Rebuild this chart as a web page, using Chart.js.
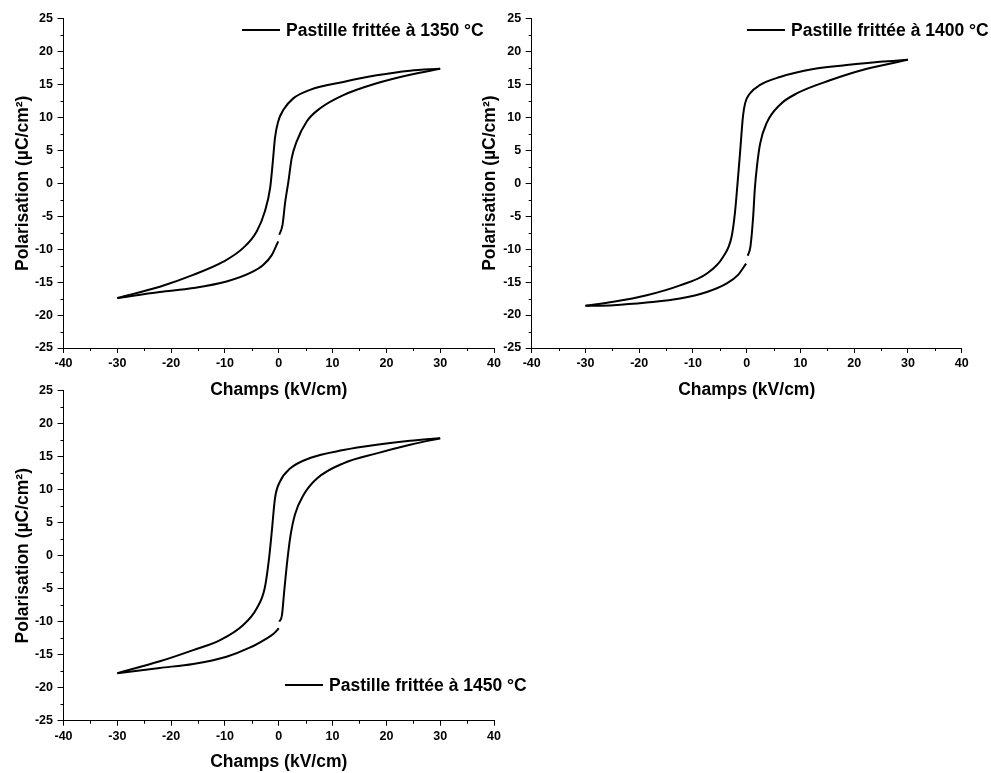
<!DOCTYPE html>
<html>
<head>
<meta charset="utf-8">
<script src="https://cdn.jsdelivr.net/npm/chart.js@4.4.0/dist/chart.umd.min.js"></script>
<style>
    body { margin: 0; background: #fff; width: 991px; height: 773px; overflow: hidden; }
    canvas { position: absolute; }
</style>
</head>
<body>
<canvas id="chart1350" width="520" height="402" style="left:0;top:0"></canvas>
<canvas id="chart1400" width="521" height="402" style="left:470px;top:0"></canvas>
<canvas id="chart1450" width="570" height="403" style="left:0;top:370px"></canvas>
<script>
// ascending branch after the gap (E>0 side), descending branch, lower return branch
const rightE1350 = [0.1, 0.7, 1.2, 1.8, 2.4, 3.3, 5.2, 7.7, 12.0, 18.2, 24.4, 30];
const rightP1350 = [-7.8, -6.3, -2.8, 0.3, 3.8, 6.3, 9.4, 11.4, 13.4, 15.2, 16.5, 17.4];
const upperE1350 = [30, 24.4, 18.2, 12.0, 5.8, 2.7, 0.9, -0.1, -0.7, -1.1, -1.6, -2.6, -4.1, -6.6, -10.3, -15.9, -22.1, -30];
const upperP1350 = [17.4, 17.1, 16.4, 15.4, 14.2, 12.9, 11.2, 9.4, 6.9, 3.3, -0.7, -4.3, -7.3, -9.8, -11.9, -13.9, -15.7, -17.4];
const lowerE1350 = [-30, -22.1, -15.9, -9.7, -5.3, -2.9, -1.3, -0.1];
const lowerP1350 = [-17.4, -16.5, -15.9, -14.9, -13.6, -12.4, -10.9, -8.8];

const rightE1400 = [0.2, 0.7, 1.2, 1.5, 1.9, 2.5, 3.7, 6.2, 9.3, 15.5, 21.7, 30];
const rightP1400 = [-11.0, -9.6, -5.1, -1.0, 2.5, 6.0, 9.1, 11.9, 13.6, 15.6, 17.2, 18.7];
const upperE1400 = [30, 24.8, 18.6, 12.4, 6.2, 2.5, 0.6, -0.3, -0.7, -1.2, -1.7, -2.2, -2.8, -4.4, -7.4, -12.4, -18.6, -24.8, -30];
const upperP1400 = [18.7, 18.4, 17.9, 17.3, 16.1, 14.9, 13.6, 12.1, 10.1, 5.0, 0.0, -4.6, -8.1, -11.2, -13.7, -15.5, -17.0, -18.0, -18.6];
const lowerE1400 = [-30, -24.8, -18.6, -12.4, -7.4, -3.7, -1.6, -0.1];
const lowerP1400 = [-18.6, -18.5, -18.1, -17.5, -16.5, -15.2, -13.9, -12.2];

const rightE1450 = [0.1, 0.6, 1.0, 1.5, 2.1, 3.0, 4.6, 7.1, 12.0, 18.2, 24.4, 30];
const rightP1450 = [-10.0, -9.0, -5.5, -1.4, 2.6, 6.2, 9.2, 11.7, 14.0, 15.5, 16.8, 17.8];
const upperE1450 = [30, 24.4, 18.2, 12.0, 5.8, 2.1, 0.2, -0.7, -1.3, -1.8, -2.6, -4.1, -6.6, -10.9, -15.9, -22.1, -30];
const upperP1450 = [17.8, 17.4, 16.8, 16.0, 14.8, 13.2, 11.2, 8.7, 3.6, -0.4, -4.9, -8.0, -10.5, -12.8, -14.3, -16.0, -17.8];
const lowerE1450 = [-30, -22.1, -15.9, -9.7, -5.3, -2.6, -0.9, 0.0];
const lowerP1450 = [-17.8, -17.0, -16.4, -15.3, -13.9, -12.7, -11.8, -11.0];

const FONT = 'Arial, "Liberation Sans", sans-serif';

const minorTicks = {
    id: 'minorTicks',
    afterDraw(chart) {
        const { ctx, chartArea, scales: { x, y } } = chart;
        ctx.save();
        ctx.strokeStyle = '#000';
        ctx.lineWidth = 1;
        ctx.beginPath();
        for (let v = x.min + 5; v < x.max; v += 10) {
            const px = Math.round(x.getPixelForValue(v)) + 0.5;
            ctx.moveTo(px, chartArea.bottom);
            ctx.lineTo(px, chartArea.bottom + 3);
        }
        for (let v = y.min + 2.5; v < y.max; v += 5) {
            const py = Math.round(y.getPixelForValue(v)) + 0.5;
            ctx.moveTo(chartArea.left - 3, py);
            ctx.lineTo(chartArea.left, py);
        }
        ctx.stroke();
        ctx.restore();
    }
};

const lineLegend = {
    id: 'lineLegend',
    afterDraw(chart, args, opts) {
        const ds = chart.data.datasets[0];
        const ctx = chart.ctx;
        ctx.save();
        ctx.strokeStyle = ds.borderColor;
        ctx.lineWidth = 2;
        ctx.beginPath();
        ctx.moveTo(opts.x, opts.y);
        ctx.lineTo(opts.x + 38, opts.y);
        ctx.stroke();
        ctx.font = 'bold 17.5px ' + FONT;
        ctx.fillStyle = '#000';
        ctx.textBaseline = 'middle';
        ctx.fillText(ds.label, opts.x + 44, opts.y + 1);
        ctx.restore();
    }
};

function toPoints(es, ps) {
    return es.map((e, i) => ({ x: e, y: ps[i] }));
}

function branch(label, es, ps) {
    return {
        label: label,
        data: toPoints(es, ps),
        showLine: true,
        borderColor: '#000',
        borderWidth: 2,
        pointRadius: 0,
        cubicInterpolationMode: 'monotone',
        fill: false
    };
}

function createLoopChart(canvasId, label, right, upper, lower, layout) {
    const ctx = document.getElementById(canvasId).getContext('2d');
    const tickFont = { family: FONT, size: 12.5, weight: 'bold' };
    const titleFont = { family: FONT, size: 17.5, weight: 'bold' };

    return new Chart(ctx, {
        type: 'scatter',
        data: {
            datasets: [
                branch(label, right[0], right[1]),
                branch('', upper[0], upper[1]),
                branch('', lower[0], lower[1])
            ]
        },
        options: {
            responsive: false,
            animation: false,
            events: [],
            layout: {
                padding: { left: 0, top: layout.top, right: layout.right, bottom: 0 }
            },
            plugins: {
                legend: { display: false },
                tooltip: { enabled: false },
                lineLegend: layout.legend
            },
            scales: {
                x: {
                    type: 'linear',
                    min: -40,
                    max: 40,
                    ticks: { stepSize: 10, autoSkip: false, maxRotation: 0, color: '#000', font: tickFont, padding: 3 },
                    grid: { drawOnChartArea: false, tickLength: 5, color: '#000' },
                    border: { color: '#000', width: 1 },
                    title: {
                        display: true,
                        text: 'Champs (kV/cm)',
                        color: '#000',
                        font: titleFont,
                        padding: { top: 0, bottom: layout.xTitlePad }
                    },
                    afterFit(scale) { scale.height = layout.xHeight; }
                },
                y: {
                    type: 'linear',
                    min: -25,
                    max: 25,
                    ticks: { stepSize: 5, autoSkip: false, color: '#000', font: tickFont, padding: 4.5 },
                    grid: { drawOnChartArea: false, tickLength: 6, color: '#000' },
                    border: { color: '#000', width: 1 },
                    title: {
                        display: true,
                        text: 'Polarisation (µC/cm²)',
                        color: '#000',
                        font: titleFont,
                        padding: { top: layout.yTitlePad, bottom: 0 }
                    },
                    afterFit(scale) { scale.width = layout.yWidth; }
                }
            }
        },
        plugins: [minorTicks, lineLegend]
    });
}

createLoopChart('chart1350', 'Pastille frittée à 1350 °C',
    [rightE1350, rightP1350], [upperE1350, upperP1350], [lowerE1350, lowerP1350],
    { top: 18.7, right: 26, yWidth: 63.5, xHeight: 54, xTitlePad: 1.5, yTitlePad: 13, legend: { x: 242, y: 30 } });

createLoopChart('chart1400', 'Pastille frittée à 1400 °C',
    [rightE1400, rightP1400], [upperE1400, upperP1400], [lowerE1400, lowerP1400],
    { top: 18.3, right: 29.3, yWidth: 61.7, xHeight: 54, xTitlePad: 1.5, yTitlePad: 9.5, legend: { x: 277, y: 30 } });

createLoopChart('chart1450', 'Pastille frittée à 1450 °C',
    [rightE1450, rightP1450], [upperE1450, upperP1450], [lowerE1450, lowerP1450],
    { top: 20.7, right: 76, yWidth: 63.5, xHeight: 52.3, xTitlePad: 0.8, yTitlePad: 13, legend: { x: 285, y: 315 } });
</script>
</body>
</html>
